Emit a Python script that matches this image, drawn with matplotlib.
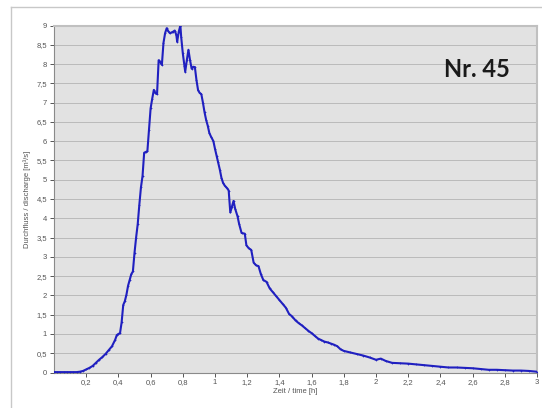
import matplotlib
matplotlib.use('Agg')
import matplotlib.pyplot as plt
from matplotlib.lines import Line2D
from matplotlib.ticker import FuncFormatter

# hydrograph
time_h = [0.00, 0.02, 0.04, 0.06, 0.08, 0.10, 0.12, 0.14, 0.16, 0.18,
          0.20, 0.22, 0.24, 0.26, 0.28, 0.30, 0.32, 0.34, 0.36, 0.38,
          0.39, 0.40, 0.41, 0.42, 0.43, 0.44, 0.45, 0.46, 0.47, 0.48,
          0.49, 0.50, 0.51, 0.52, 0.53, 0.54, 0.55, 0.56, 0.57, 0.58,
          0.59, 0.60, 0.61, 0.62, 0.63, 0.64, 0.65, 0.66, 0.67, 0.68,
          0.69, 0.70, 0.71, 0.72, 0.73, 0.74, 0.75, 0.76, 0.765, 0.775,
          0.785, 0.79, 0.80, 0.81, 0.815, 0.825, 0.835, 0.845, 0.855, 0.865,
          0.875, 0.885, 0.895, 0.905, 0.915, 0.925, 0.935, 0.945, 0.955, 0.965,
          0.975, 0.99, 1.00, 1.01, 1.02, 1.03, 1.04, 1.05, 1.06, 1.075,
          1.085, 1.095, 1.105, 1.115, 1.125, 1.14, 1.15, 1.165, 1.185, 1.195,
          1.21, 1.225, 1.24, 1.255, 1.27, 1.285, 1.30, 1.32, 1.34, 1.36,
          1.38, 1.40, 1.42, 1.44, 1.46, 1.48, 1.50, 1.52, 1.54, 1.56,
          1.58, 1.60, 1.62, 1.64, 1.66, 1.68, 1.70, 1.72, 1.74, 1.76,
          1.78, 1.80, 1.84, 1.88, 1.92, 1.96, 2.00, 2.03, 2.06, 2.10,
          2.15, 2.20, 2.25, 2.30, 2.35, 2.40, 2.45, 2.50, 2.55, 2.60,
          2.65, 2.70, 2.75, 2.80, 2.85, 2.90, 2.95, 3.00]
discharge = [0.01, 0.01, 0.01, 0.01, 0.01, 0.01, 0.01, 0.01, 0.02, 0.04,
             0.08, 0.12, 0.17, 0.25, 0.33, 0.40, 0.48, 0.58, 0.68, 0.85,
             0.97, 1.00, 1.02, 1.30, 1.75, 1.85, 2.02, 2.25, 2.40, 2.55,
             2.62, 3.10, 3.50, 3.85, 4.35, 4.80, 5.10, 5.70, 5.72, 5.74,
             6.30, 6.85, 7.10, 7.33, 7.25, 7.22, 8.10, 8.05, 7.98, 8.55,
             8.80, 8.93, 8.85, 8.80, 8.82, 8.84, 8.87, 8.75, 8.58, 8.84,
             9.00, 8.70, 8.28, 7.95, 7.80, 8.10, 8.37, 8.10, 7.88, 7.93,
             7.92, 7.58, 7.32, 7.25, 7.22, 7.00, 6.75, 6.55, 6.40, 6.21,
             6.12, 6.00, 5.80, 5.62, 5.45, 5.26, 5.05, 4.92, 4.85, 4.78,
             4.72, 4.15, 4.30, 4.45, 4.25, 4.05, 3.85, 3.62, 3.60, 3.30,
             3.22, 3.18, 2.85, 2.78, 2.76, 2.55, 2.40, 2.35, 2.18, 2.08,
             1.98, 1.88, 1.78, 1.68, 1.52, 1.45, 1.35, 1.28, 1.22, 1.15,
             1.08, 1.02, 0.95, 0.88, 0.84, 0.80, 0.78, 0.75, 0.72, 0.68,
             0.60, 0.56, 0.52, 0.48, 0.44, 0.39, 0.33, 0.36, 0.30, 0.25,
             0.24, 0.23, 0.21, 0.19, 0.17, 0.15, 0.13, 0.13, 0.12, 0.11,
             0.09, 0.07, 0.07, 0.06, 0.05, 0.05, 0.04, 0.02]

x_ticks = [0.2, 0.4, 0.6, 0.8, 1.0, 1.2, 1.4, 1.6, 1.8, 2.0,
           2.2, 2.4, 2.6, 2.8, 3.0]
y_ticks = [0, 0.5, 1, 1.5, 2, 2.5, 3, 3.5, 4, 4.5,
           5, 5.5, 6, 6.5, 7, 7.5, 8, 8.5, 9]
title_text = 'Nr. 45'

plt.rcParams['font.family'] = ['Liberation Sans', 'DejaVu Sans']


def comma_fmt(v, _pos):
    s = ('%.1f' % v).rstrip('0').rstrip('.')
    return s.replace('.', ',')


fig = plt.figure(figsize=(5.42, 4.08), dpi=100)
fig.patch.set_facecolor('white')
ax = fig.add_axes([54 / 542, 1 - 372.5 / 408, 483 / 542, (372.5 - 25.5) / 408])
ax.set_facecolor('#e2e2e2')

for yv in y_ticks[1:]:
    ax.axhline(yv, color='#bababa', lw=0.7, zorder=1)

ax.plot(time_h, discharge, color='#2020c0', lw=1.5, marker='+', ms=2.0,
        mew=0.5, zorder=3)

ax.set_xlim(0, 3)
ax.set_ylim(0, 9)
ax.set_xticks(x_ticks)
ax.set_yticks(y_ticks)
ax.xaxis.set_major_formatter(FuncFormatter(comma_fmt))
ax.yaxis.set_major_formatter(FuncFormatter(comma_fmt))
ax.tick_params(labelsize=5.5, colors='#555555', length=3, width=0.7, pad=2)

for side in ('left', 'bottom'):
    ax.spines[side].set_color('#8a8a8a')
    ax.spines[side].set_linewidth(0.8)
for side in ('top', 'right'):
    ax.spines[side].set_color('#c0c0c0')
    ax.spines[side].set_linewidth(1.5)

ax.set_xlabel('Zeit / time [h]', fontsize=5.5, color='#555555', labelpad=1)
ax.set_ylabel('Durchfluss / discharge [m³/s]', fontsize=5.5, color='#555555',
              labelpad=4)

ax.text(0.876, 0.874, title_text, transform=ax.transAxes, ha='center', va='center',
        fontsize=17, fontweight='bold', family=['Lato', 'DejaVu Sans'],
        color='#1a1a1a')

# light frame around the chart object
fig.add_artist(Line2D([11 / 542, 1], [1 - 7 / 408, 1 - 7 / 408],
                      color='#c8c8c8', lw=1.0))
fig.add_artist(Line2D([11 / 542, 11 / 542], [0, 1 - 7 / 408],
                      color='#c8c8c8', lw=1.0))

fig.savefig('out.png', dpi=100)
